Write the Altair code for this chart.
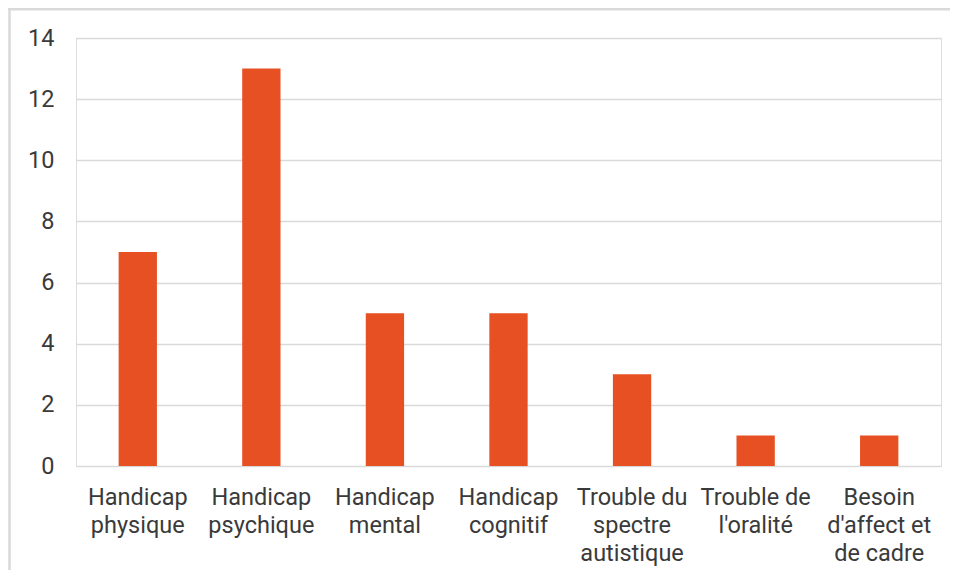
import altair as alt
import pandas as pd

categories = [
    "Handicap\nphysique",
    "Handicap\npsychique",
    "Handicap\nmental",
    "Handicap\ncognitif",
    "Trouble du\nspectre\nautistique",
    "Trouble de\nl'oralité",
    "Besoin\nd'affect et\nde cadre",
]
values = [7, 13, 5, 5, 3, 1, 1]
y_ticks = [0, 2, 4, 6, 8, 10, 12, 14]

df = pd.DataFrame({"cat": categories, "val": values})

FONT = "Roboto"
TXT = "#3a3a3a"
GRID = "#d9d9d9"

bars = alt.Chart(df).mark_bar(color="#E65022").encode(
    x=alt.X(
        "cat:N",
        sort=categories,
        title=None,
        scale=alt.Scale(paddingInner=0.69, paddingOuter=0.345),
        axis=alt.Axis(
            labelAngle=0,
            labelExpr="split(datum.label, '\\n')",
            labelFont=FONT,
            labelFontSize=23.5,
            labelLineHeight=28,
            labelColor=TXT,
            labelPadding=19,
            labelBaseline="top",
            ticks=False,
            domain=False,
            grid=False,
            labelLimit=200,
        ),
    ),
    y=alt.Y(
        "val:Q",
        title=None,
        scale=alt.Scale(domain=[0, 14], nice=False),
        axis=alt.Axis(
            values=y_ticks,
            labelFont=FONT,
            labelFontSize=23.5,
            labelColor=TXT,
            labelPadding=22,
            ticks=False,
            domain=False,
            gridColor=GRID,
            gridWidth=1.6,
        ),
    ),
)

frame_data = alt.Data(values=[{}])
top_edge = alt.Chart(frame_data).mark_rule(color=GRID, strokeWidth=2.5).encode(
    x=alt.value(-67.7),
    x2=alt.value(874),
    y=alt.value(-28.7),
)
left_edge = alt.Chart(frame_data).mark_rule(color=GRID, strokeWidth=2.5).encode(
    x=alt.value(-66.5),
    y=alt.value(-29.9),
    y2=alt.value(533),
)

chart = alt.layer(top_edge, left_edge, bars).properties(
    width=865,
    height=428,
    autosize=alt.AutoSizeParams(type="none"),
    padding={"left": 68, "top": 30, "right": 9, "bottom": 104},
).configure_view(stroke=None).configure(background="white")

chart.save("out.html", embed_options={"renderer": "svg", "actions": False})
